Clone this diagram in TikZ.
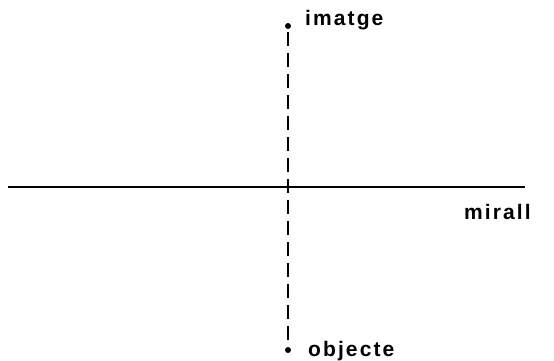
\documentclass[tikz,border=0pt]{standalone}
\usepackage{fontspec}
\setmainfont{Liberation Sans}
\newfontfamily\handfont[LetterSpace=10]{Liberation Sans}
\begin{document}
\begin{tikzpicture}[x=1pt,y=-1pt,
  lbl/.style={font=\handfont\bfseries\fontsize{21}{21}\selectfont, inner sep=0pt},
  pt/.style={circle, fill=black, inner sep=0pt, minimum size=6pt},
  mirror/.style={line width=2.4pt},
  ray/.style={line width=2pt, dash pattern=on 14pt off 7pt}]
\useasboundingbox (0,0) rectangle (554,360);
\coordinate (mL) at (8,187);
\coordinate (mR) at (525,187);
\node[pt] (im) at (288,26) {};
\node[pt] (ob) at (288,350) {};
\draw[mirror] (mL) -- (mR);
\draw[ray] ([yshift=-3pt]im.south) -- (ob.north);
\node[lbl, anchor=base west] (timg) at (305,25) {imatge};
\node[lbl, anchor=base west] (tob) at (308,356) {objecte};
\node[lbl, anchor=base west] (tmir) at (464,219) {mirall};
\end{tikzpicture}
\end{document}
